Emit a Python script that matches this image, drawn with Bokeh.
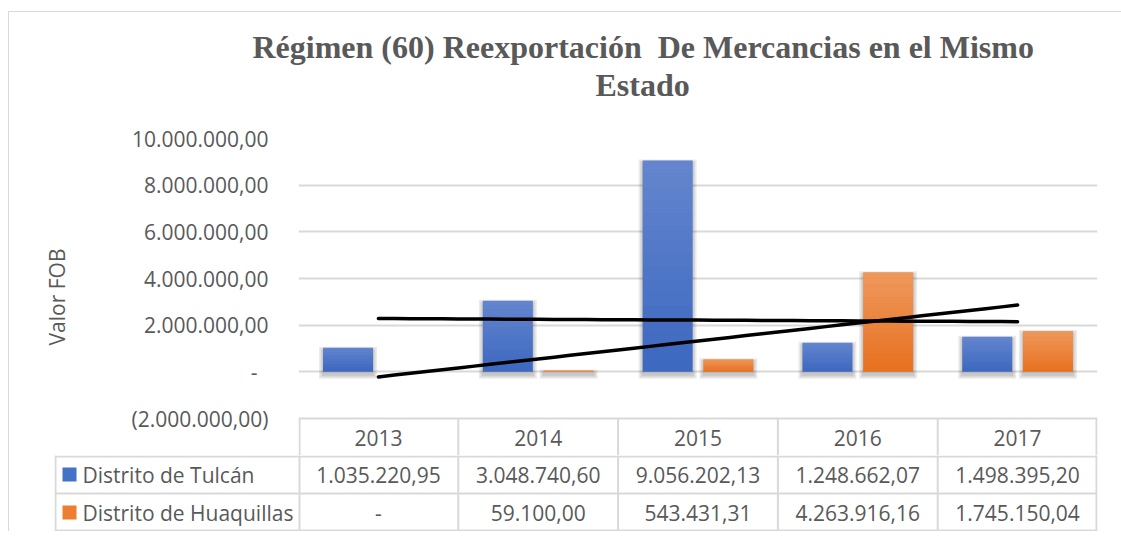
import numpy as np
from bokeh.plotting import figure
from bokeh.models import Range1d, FixedTicker, Title, Plot
from bokeh.layouts import column
from bokeh.embed import file_html
from bokeh.resources import INLINE
from bokeh.core.properties import value

# ---------------- data ----------------
years = ["2013", "2014", "2015", "2016", "2017"]
tulcan = [1035220.95, 3048740.60, 9056202.13, 1248662.07, 1498395.20]
huaquillas = [0.0, 59100.00, 543431.31, 4263916.16, 1745150.04]
series_names = ["Distrito de Tulcán", "Distrito de Huaquillas"]
y_ticks = [-2000000, 0, 2000000, 4000000, 6000000, 8000000, 10000000]
y_tick_labels = ["(2.000.000,00)", "-\u00a0\u00a0", "2.000.000,00", "4.000.000,00",
                 "6.000.000,00", "8.000.000,00", "10.000.000,00"]
title_line1 = "Régimen (60) Reexportación\u00a0 De Mercancias en el Mismo"
title_line2 = "Estado"
y_label = "Valor FOB"

# ---------------- style ----------------
TXT = "#595959"
GRID = "#d9d9d9"
BLUE = "#3d68c1"
ORANGE = "#e8711f"
BLUE_SQ = "#4472c4"
ORANGE_SQ = "#ed7d31"
FONT = "Open Sans"
FS = "21px"

# layout (page pixels)
X0, X1 = 298, 1097          # plot area left/right
CAT = (X1 - X0) / 5.0       # px per category
TOP, M2 = 138, 418          # y of 10M and -2M
PX = 12e6 / (M2 - TOP)      # value per pixel
TBL_TOP = 455
Y_START = -2e6 - (TBL_TOP - M2) * PX
W = 1112
HAS_FA = "frame_align" in Plot.properties()

def fmt(v):
    if v == 0:
        return "-"
    s = f"{v:,.2f}"
    return s.replace(",", "X").replace(".", ",").replace("X", ".")

def bx(px):
    return (px - X0) / CAT

# ---------------- main figure ----------------
p = figure(width=W, height=443, x_range=Range1d(0, 5), y_range=Range1d(Y_START, 1e7),
           output_backend="svg", toolbar_location=None, x_axis_location=None, title=None,
           min_border_left=289, min_border_right=24, min_border_top=126, min_border_bottom=0)
if HAS_FA:
    p.frame_align = False
p.outline_line_color = None
p.background_fill_color = "white"
p.border_fill_color = "white"
p.xgrid.grid_line_color = None
p.ygrid.grid_line_color = GRID
p.ygrid.grid_line_width = 2
p.ygrid.ticker = FixedTicker(ticks=y_ticks)

ax = p.yaxis[0]
ax.ticker = FixedTicker(ticks=y_ticks)
ax.major_label_overrides = {t: l for t, l in zip(y_ticks, y_tick_labels)}
ax.axis_line_color = None
ax.major_tick_line_color = None
ax.minor_tick_line_color = None
ax.major_tick_out = 0
ax.major_tick_in = 0
ax.major_label_standoff = 30
ax.major_label_text_font = FONT
ax.major_label_text_font_size = FS
ax.major_label_text_color = TXT
ax.axis_label = y_label
ax.axis_label_text_font = FONT
ax.axis_label_text_font_size = FS
ax.axis_label_text_font_style = "normal"
ax.axis_label_text_color = TXT
ax.axis_label_standoff = 58

# titles (stacked upward from the frame): spacer, second line, first line
spacer = Title(text="\u00a0", align="left", text_font_size="10px", text_color="white")
spacer.standoff = 23
p.add_layout(spacer, "above")
for txt, off, so in [(title_line2, 297, 0), (title_line1, -46, 0)]:
    tt = Title(text=txt, align="left", offset=off, text_font="Liberation Serif",
               text_font_size="32px", text_font_style="bold", text_color=TXT)
    tt.standoff = so
    p.add_layout(tt, "above")

# bars
OFF = 0.19
BW = 50 / CAT
xc = np.arange(5) + 0.5
series = [(tulcan, -OFF, BLUE, 0.20), (huaquillas, OFF, ORANGE, 0.28)]

# shadows
for vals, off, col, a in series:
    for e in [1.0, 2.5, 4.0]:
        sx = [x + off for x, v in zip(xc, vals) if v > 0]
        sv = [v for v in vals if v > 0]
        p.quad(left=[x - BW / 2 - e / CAT for x in sx], right=[x + BW / 2 + e / CAT for x in sx],
               top=[v - (3 - e) * PX for v in sv], bottom=[-(3 + e) * PX for v in sv],
               fill_color="black", fill_alpha=0.08, line_color=None)

for vals, off, col, a in series:
    p.vbar(x=xc + off, top=vals, bottom=0, width=BW, fill_color=col, line_color=None)
    # light gradient overlay (lighter at top)
    K = 16
    L, R, T, B, A = [], [], [], [], []
    for x, v in zip(xc, vals):
        for k in range(K):
            L.append(x + off - BW / 2); R.append(x + off + BW / 2)
            T.append(v * (k + 1) / K); B.append(v * k / K)
            A.append(a * (k + 0.5) / K)
    p.quad(left=L, right=R, top=T, bottom=B, fill_color="white", fill_alpha=A, line_color=None)

# trendlines
xs = np.arange(1, 6)
b, lna = np.polyfit(xs, np.log(tulcan), 1)
xf = np.linspace(1, 5, 41)
p.line(xf - 0.5, np.exp(lna) * np.exp(b * xf), line_color="black", line_width=3.5, line_cap="round")
m, c = np.polyfit(xs, huaquillas, 1)
p.line(xf - 0.5, m * xf + c, line_color="black", line_width=3.5, line_cap="round")

# table header row (years) inside main plot
eps = 1.0 / CAT
vx = [eps] + [1, 2, 3, 4] + [5 - eps]
p.segment(x0=vx, x1=vx, y0=[-2e6] * 6, y1=[Y_START] * 6, line_color=GRID, line_width=2)
p.text(x=xc, y=[1e7 - (437 - TOP) * PX] * 5, text=years, text_align="center",
       text_baseline="middle", text_font=value(FONT), text_font_size=FS, text_color=TXT)

# ---------------- table figure ----------------
H = 76
t = figure(width=W, height=H, x_range=Range1d(bx(54), 5), y_range=Range1d(H, 0),
           output_backend="svg", toolbar_location=None, x_axis_location=None, y_axis_location=None,
           min_border_left=45, min_border_right=24, min_border_top=0, min_border_bottom=0)
if HAS_FA:
    t.frame_align = False
t.outline_line_color = None
t.xgrid.visible = False
t.ygrid.visible = False
t.border_fill_color = "white"

tx = [bx(54) + eps, eps, 1, 2, 3, 4, 5 - eps]
t.segment(x0=tx, x1=tx, y0=[0] * 7, y1=[H] * 7, line_color=GRID, line_width=2)
hy = [1, 38, H - 1]
t.segment(x0=[bx(54)] * 3, x1=[5] * 3, y0=hy, y1=hy, line_color=GRID, line_width=2)

row_y = [19, 57]
t.rect(x=[bx(69)] * 2, y=row_y, width=14, height=14, width_units="screen", height_units="screen",
       fill_color=[BLUE_SQ, ORANGE_SQ], line_color=None)
t.text(x=[bx(82)] * 2, y=row_y, text=series_names, text_align="left", text_baseline="middle",
       text_font=value(FONT), text_font_size=FS, text_color=TXT)
for ry, vals in zip(row_y, [tulcan, huaquillas]):
    t.text(x=xc, y=[ry] * 5, text=[fmt(v) for v in vals], text_align="center",
           text_baseline="middle", text_font=value(FONT), text_font_size=FS, text_color=TXT)

layout = column(p, t, margin=(11, 0, 0, 8),
                styles={"border-top": "1px solid #d9d9d9", "border-left": "1px solid #d9d9d9"})

open("out.html", "w").write(file_html(layout, INLINE))
